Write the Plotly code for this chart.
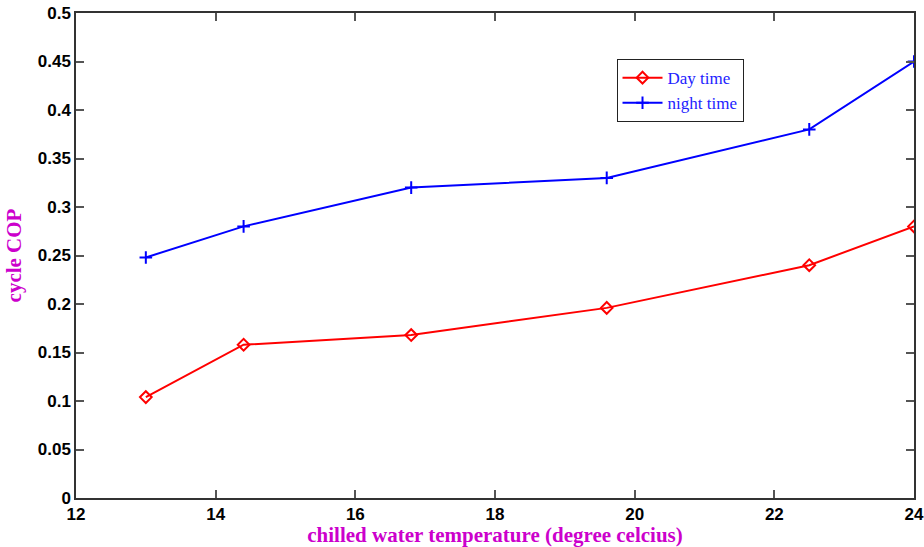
import plotly.graph_objects as go

# chilled water temperature (degree celcius)
temperature = [13.0, 14.4, 16.8, 19.6, 22.5, 24.0]
# cycle COP for the two operating periods
cop_day = [0.104, 0.158, 0.168, 0.196, 0.240, 0.280]
cop_night = [0.248, 0.280, 0.320, 0.330, 0.380, 0.450]

x_ticks = [12, 14, 16, 18, 20, 22, 24]
y_ticks = [0, 0.05, 0.1, 0.15, 0.2, 0.25, 0.3, 0.35, 0.4, 0.45, 0.5]
y_tick_text = ["0", "0.05", "0.1", "0.15", "0.2", "0.25", "0.3", "0.35", "0.4", "0.45", "0.5"]

fig = go.Figure()
fig.add_trace(go.Scatter(
    x=temperature, y=cop_day, name="Day time", mode="lines+markers",
    line=dict(color="#FF0000", width=2),
    marker=dict(symbol="diamond-open", size=9, color="#FF0000", line=dict(width=2)),
))
fig.add_trace(go.Scatter(
    x=temperature, y=cop_night, name="night time", mode="lines+markers",
    line=dict(color="#0000FF", width=2),
    marker=dict(symbol="cross-thin", size=9, color="#0000FF",
                line=dict(color="#0000FF", width=2)),
))

axis_common = dict(
    showgrid=False, zeroline=False, showline=True, linecolor="#333333", linewidth=1.5,
    mirror="ticks", ticks="inside", ticklen=8, tickcolor="#555555", tickwidth=1.5,
    automargin=False,
    tickfont=dict(family="Liberation Sans", size=17, color="#000000", weight="bold"),
)

fig.update_layout(
    width=924, height=547,
    margin=dict(l=76, r=10, t=13, b=49),
    paper_bgcolor="white", plot_bgcolor="white",
    xaxis=dict(range=[12, 24], tickvals=x_ticks, ticktext=[str(v) for v in x_ticks],
               title=dict(text="chilled water temperature (degree celcius)", standoff=7,
                          font=dict(family="Liberation Serif", size=21, color="#CC00CC",
                                    weight="bold")),
               **axis_common),
    yaxis=dict(range=[0, 0.5], tickvals=y_ticks, ticktext=y_tick_text,
               title=dict(text="cycle COP", standoff=10,
                          font=dict(family="Liberation Serif", size=21, color="#CC00CC",
                                    weight="bold")),
               **axis_common),
    legend=dict(x=0.645, y=0.905, xanchor="left", yanchor="top",
                bgcolor="white", bordercolor="#222222", borderwidth=1,
                font=dict(family="Liberation Serif", size=17, color="#2222FF"),
                tracegroupgap=0, itemwidth=40),
    showlegend=True,
)

fig.write_html("out.html")
